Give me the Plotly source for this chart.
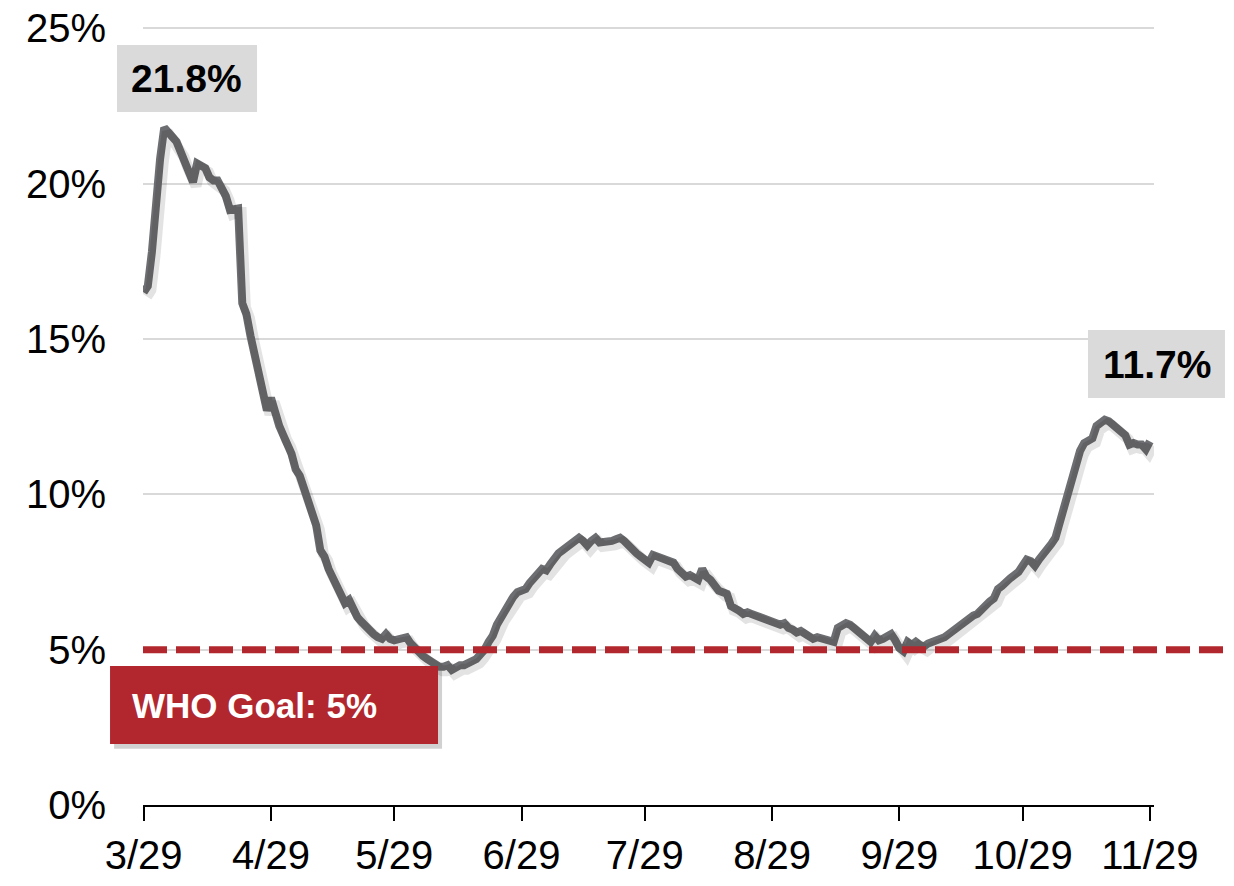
import pandas as pd
import plotly.graph_objects as go

# ---- data ----
start_date = "2020-03-29"
positivity = [
    16.5, 16.7, 17.8, 19.6, 20.8, 21.8, 21.6, 21.5, 21.35, 21.0,
    20.65, 20.3, 20.05, 20.65, 20.55, 20.5, 20.2, 20.1, 20.1, 19.9,
    19.6, 19.15, 19.2, 19.2, 16.15, 15.8, 15.1, 14.5, 14.1, 13.55,
    12.7, 13.1, 12.6, 12.2, 11.9, 11.65, 11.3, 10.8, 10.6, 10.2,
    9.8, 9.4, 9.0, 8.2, 8.0, 7.6, 7.35, 7.1, 6.8, 6.5,
    6.6, 6.3, 6.05, 5.9, 5.75, 5.6, 5.5, 5.4, 5.35, 5.5,
    5.35, 5.3, 5.35, 5.35, 5.4, 5.2, 5.05, 4.9, 4.8, 4.7,
    4.6, 4.5, 4.45, 4.45, 4.5, 4.35, 4.45, 4.5, 4.5, 4.55,
    4.6, 4.7, 4.85, 5.0, 5.25, 5.45, 5.8, 6.05, 6.25, 6.5,
    6.7, 6.85, 6.9, 6.95, 7.15, 7.35, 7.45, 7.6, 7.55, 7.75,
    7.95, 8.1, 8.2, 8.3, 8.4, 8.55, 8.6, 8.5, 8.35, 8.5,
    8.6, 8.45, 8.45, 8.45, 8.5, 8.55, 8.6, 8.5, 8.35, 8.25,
    8.1, 8.0, 7.9, 7.8, 8.05, 8.0, 8.0, 7.95, 7.85, 7.8,
    7.6, 7.45, 7.35, 7.4, 7.3, 7.25, 7.6, 7.35, 7.25, 7.1,
    6.9, 6.85, 6.8, 6.4, 6.35, 6.25, 6.15, 6.2, 6.15, 6.1,
    6.05, 6.0, 5.95, 5.9, 5.85, 5.8, 5.85, 5.7, 5.65, 5.55,
    5.6, 5.5, 5.45, 5.35, 5.4, 5.35, 5.3, 5.25, 5.25, 5.7,
    5.8, 5.85, 5.8, 5.7, 5.55, 5.45, 5.35, 5.25, 5.45, 5.3,
    5.35, 5.4, 5.5, 5.3, 5.05, 4.95, 5.25, 5.15, 5.25, 5.15,
    5.1, 5.2, 5.25, 5.3, 5.3, 5.4, 5.5, 5.6, 5.7, 5.8,
    5.95, 6.05, 6.1, 6.15, 6.3, 6.4, 6.55, 6.65, 6.95, 7.05,
    7.2, 7.3, 7.4, 7.5, 7.7, 7.9, 7.85, 7.7, 7.9, 8.05,
    8.25, 8.4, 8.6, 9.1, 9.6, 10.0, 10.45, 11.0, 11.4, 11.65,
    11.75, 11.8, 12.2, 12.3, 12.4, 12.35, 12.25, 12.1, 12.0, 11.9,
    11.6, 11.65, 11.6, 11.6, 11.45, 11.7,
]
x_tick_dates = ["2020-03-29", "2020-04-29", "2020-05-29", "2020-06-29", "2020-07-29",
                "2020-08-29", "2020-09-29", "2020-10-29", "2020-11-29"]
x_tick_labels = ["3/29", "4/29", "5/29", "6/29", "7/29", "8/29", "9/29", "10/29", "11/29"]
y_tick_vals = [0, 5, 10, 15, 20, 25]
y_tick_labels = ["0%", "5%", "10%", "15%", "20%", "25%"]
who_goal = 5
peak_label = "21.8%"
last_label = "11.7%"
goal_label = "WHO Goal: 5%"

dates = pd.date_range(start_date, periods=len(positivity), freq="D")

FONT = "Liberation Sans, Arial, sans-serif"
LINE_GRAY = "#6d6e71"
RED = "#b1272d"

x_range = ["2020-03-28 20:00", "2020-11-30"]
y_range = [0, 25.04]

fig = go.Figure()

# soft shadow of the line (same data drawn on slightly offset axes)
fig.add_trace(go.Scatter(
    x=dates, y=positivity, mode="lines",
    line=dict(color="rgba(0,0,0,0.11)", width=11),
    xaxis="x2", yaxis="y2", hoverinfo="skip", showlegend=False,
))
fig.add_trace(go.Scatter(
    x=dates, y=positivity, mode="lines",
    line=dict(color=LINE_GRAY, width=8),
    showlegend=False,
))

fig.update_layout(
    width=1234, height=886,
    margin=dict(l=143, r=80, t=27, b=81, autoexpand=False),
    paper_bgcolor="white", plot_bgcolor="white",
    font=dict(family=FONT, size=40, color="black"),
    showlegend=False,
    xaxis=dict(
        type="date", range=x_range, automargin=False,
        tickvals=x_tick_dates, ticktext=x_tick_labels,
        showgrid=False, zeroline=False,
        showline=True, linecolor="black", linewidth=2,
        ticks="outside", ticklen=14, tickwidth=2, tickcolor="black",
        tickfont=dict(family=FONT, size=40, color="black"),
    ),
    yaxis=dict(
        range=y_range, tickvals=y_tick_vals, ticktext=y_tick_labels, automargin=False,
        showgrid=True, gridcolor="#d9d9d9", gridwidth=2,
        zeroline=False, showline=False, ticks="",
        ticklabelstandoff=36,
        tickfont=dict(family=FONT, size=40, color="black"),
    ),
    xaxis2=dict(
        type="date", overlaying="x", automargin=False,
        range=[pd.Timestamp(x_range[0]) - pd.Timedelta(hours=18),
               pd.Timestamp(x_range[1]) - pd.Timedelta(hours=18)],
        visible=False,
    ),
    yaxis2=dict(
        overlaying="y", automargin=False,
        range=[y_range[0] + 0.13, y_range[1] + 0.13], visible=False,
    ),
)

# WHO goal dashed line
fig.add_shape(type="line", xref="paper", yref="y", x0=0, x1=1.075, y0=who_goal, y1=who_goal,
              line=dict(color=RED, width=7, dash="24px,9px"), layer="above")

# label boxes
fig.add_shape(type="rect", xref="paper", yref="paper",
              x0=-0.0257, x1=0.1128, y0=0.8907, y1=0.9769,
              fillcolor="#dadada", line=dict(width=0), layer="above")
fig.add_shape(type="rect", xref="paper", yref="paper",
              x0=0.9347, x1=1.0702, y0=0.5231, y1=0.6105,
              fillcolor="#dadada", line=dict(width=0), layer="above")
# shadow + red box
fig.add_shape(type="rect", xref="paper", yref="paper",
              x0=-0.0326 + 0.004, x1=0.2918 + 0.004, y0=0.0784 - 0.006, y1=0.1787 - 0.006,
              fillcolor="rgba(0,0,0,0.18)", line=dict(width=0), layer="above")
fig.add_shape(type="rect", xref="paper", yref="paper",
              x0=-0.0326, x1=0.2918, y0=0.0784, y1=0.1787,
              fillcolor=RED, line=dict(width=0), layer="above")

fig.add_annotation(xref="paper", yref="paper", x=0.0435, y=0.9344, text=f"<b>{peak_label}</b>",
                   showarrow=False, font=dict(family=FONT, size=39, color="black"),
                   xanchor="center", yanchor="middle")
fig.add_annotation(xref="paper", yref="paper", x=1.0025, y=0.5668, text=f"<b>{last_label}</b>",
                   showarrow=False, font=dict(family=FONT, size=39, color="black"),
                   xanchor="center", yanchor="middle")
fig.add_annotation(xref="paper", yref="paper", x=-0.0128, y=0.1285, text=f"<b>{goal_label}</b>",
                   showarrow=False, font=dict(family=FONT, size=35, color="white"),
                   xanchor="left", yanchor="middle")

fig.write_html("out.html", config={"displayModeBar": False},
               post_script="document.body.style.margin='0';")
